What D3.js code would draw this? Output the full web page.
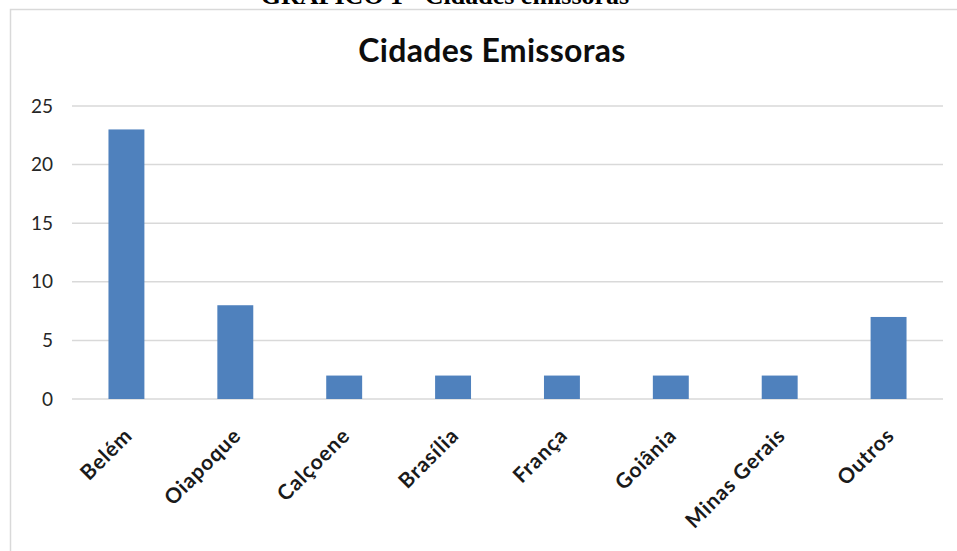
<!DOCTYPE html>
<html>
<head>
<meta charset="utf-8">
<script src="https://cdn.jsdelivr.net/npm/d3@7"></script>
<style>
  body { margin: 0; background: #fff; }
  svg { display: block; }
</style>
</head>
<body>
<div id="chart"></div>
<script>
var cidades = ["Belém", "Oiapoque", "Calçoene", "Brasília", "França", "Goiânia", "Minas Gerais", "Outros"];
var valores = [23, 8, 2, 2, 2, 2, 2, 7];
var ticksY = [0, 5, 10, 15, 20, 25];

var w = 957,
    h = 551;

var svg = d3.select("#chart").append("svg")
  .attr("width", w)
  .attr("height", h);

// caption above the frame (cut off at the top)
svg.append("text")
  .attr("x", 445)
  .attr("y", 4)
  .attr("text-anchor", "middle")
  .style("font-family", "'Liberation Serif', serif")
  .style("font-weight", "bold")
  .style("font-size", "26px")
  .text("GRÁFICO 1 - Cidades emissoras");

// chart frame
svg.append("rect")
  .attr("x", 10.5)
  .attr("y", 9.5)
  .attr("width", 1200)
  .attr("height", 1200)
  .attr("fill", "none")
  .attr("stroke", "#d9d9d9")
  .attr("stroke-width", 1.5);

svg.append("text")
  .attr("x", 492)
  .attr("y", 62)
  .attr("text-anchor", "middle")
  .style("font-family", "Lato, sans-serif")
  .style("font-weight", "bold")
  .style("font-size", "32px")
  .style("letter-spacing", "0.3px")
  .style("fill", "#0d0d0d")
  .text("Cidades Emissoras");

var x = d3.scaleBand()
  .domain(cidades)
  .range([72, 943])
  .paddingInner(0.67)
  .paddingOuter(0.335);

var y = d3.scaleLinear()
  .domain([0, 25])
  .range([399, 106]);

// gridlines
svg.append("g")
  .selectAll("line")
  .data(ticksY)
  .enter().append("line")
  .attr("x1", 72)
  .attr("x2", 943)
  .attr("y1", function(d) { return y(d); })
  .attr("y2", function(d) { return y(d); })
  .attr("stroke", "#d9d9d9")
  .attr("stroke-width", 1.5);

// y axis labels
var yAxis = d3.axisLeft(y).tickValues(ticksY).tickSize(0).tickPadding(0);
var gy = svg.append("g")
  .attr("transform", "translate(53,0)")
  .call(yAxis);
gy.select(".domain").remove();
gy.selectAll("text")
  .style("font-family", "Lato, sans-serif")
  .style("font-size", "19px")
  .style("fill", "#262626");

// bars
svg.append("g")
  .selectAll("rect")
  .data(valores)
  .enter().append("rect")
  .attr("x", function(d, i) { return x(cidades[i]); })
  .attr("y", function(d) { return y(d); })
  .attr("width", x.bandwidth())
  .attr("height", function(d) { return y(0) - y(d); })
  .attr("fill", "#4f81bd");

// category labels, rotated
var xAxis = d3.axisBottom(x).tickSize(0).tickPadding(0);
var gx = svg.append("g")
  .attr("transform", "translate(0,437)")
  .call(xAxis);
gx.select(".domain").remove();
gx.selectAll("text")
  .attr("y", 0)
  .attr("dy", 0)
  .attr("transform", "translate(7,0) rotate(-45)")
  .style("text-anchor", "end")
  .style("font-family", "Lato, sans-serif")
  .style("font-weight", "bold")
  .style("font-size", "21px")
  .style("letter-spacing", "0.8px")
  .style("fill", "#1a1a1a");
</script>
</body>
</html>
